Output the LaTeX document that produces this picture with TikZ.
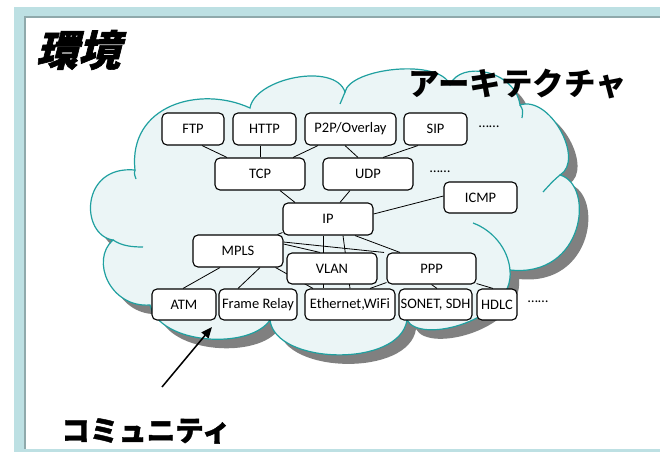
\documentclass[tikz,border=0pt]{standalone}
\usepackage{fontspec}
\setmainfont{Carlito}
\newfontfamily\jp{Noto Sans CJK JP}
\newfontfamily\jpheavy{Noto Sans CJK JP}[FakeBold=1.5]
\newfontfamily\jpsl{Noto Sans CJK JP}[FakeSlant=0.25,FakeBold=1.5]
\usetikzlibrary{arrows.meta}
\definecolor{framebl}{HTML}{BDE0E3}
\definecolor{frameln}{HTML}{8FA9AB}
\definecolor{cloudfill}{HTML}{EBF5F6}
\definecolor{cloudline}{HTML}{1FA0A0}
\definecolor{shadowgr}{HTML}{808080}
\pgfdeclarelayer{back}
\pgfdeclarelayer{mid}
\pgfsetlayers{back,mid,main}
\newcommand\mycloudpath{(113,240) .. controls (80,235) and (80,165) .. (135,170)
 .. controls (128,105) and (200,85) .. (250,108)
 .. controls (255,78) and (335,62) .. (345,92)
 .. controls (350,68) and (440,58) .. (450,85)
 .. controls (460,60) and (515,70) .. (520,105)
 .. controls (550,95) and (585,160) .. (560,175)
 .. controls (595,185) and (585,278) .. (510,270)
 .. controls (515,320) and (420,345) .. (407,320)
 .. controls (400,368) and (275,365) .. (270,320)
 .. controls (250,350) and (160,345) .. (150,305)
 .. controls (110,308) and (90,260) .. (113,240) -- cycle}
\tikzset{
  box/.style={draw=black, line width=1.1pt, rounded corners=5pt, fill=white,
    inner sep=0pt, font=\fontsize{14.5}{16}\selectfont, text=black},
  conn/.style={draw=black, line width=0.8pt},
  innerarc/.style={draw=cloudline, line width=1.2pt},
  dotstxt/.style={inner sep=0pt, font=\fontsize{14.5}{16}\selectfont}
}
\begin{document}
\begin{tikzpicture}[x=1pt,y=-1pt]
\useasboundingbox (0,0) rectangle (660,452);
% nodes
\node[box, minimum width=62pt, minimum height=32pt] (ftp) at (193,129) {FTP};
\node[box, minimum width=63pt, minimum height=32pt] (http) at (264.5,129) {HTTP};
\node[box, minimum width=91pt, minimum height=32pt] (p2p) at (350.5,129) {P2P/Overlay};
\node[box, minimum width=63pt, minimum height=32pt] (sip) at (435.5,129) {SIP};
\node[dotstxt] (dots1) at (489,127) {……};
\node[box, minimum width=90pt, minimum height=32pt] (tcp) at (260,174) {TCP};
\node[box, minimum width=90pt, minimum height=32pt] (udp) at (368,174) {UDP};
\node[dotstxt] (dots2) at (440,172) {……};
\node[box, minimum width=73pt, minimum height=31pt] (icmp) at (480.5,197.5) {ICMP};
\node[box, minimum width=90pt, minimum height=32pt] (ip) at (328,219) {IP};
\node[box, minimum width=90pt, minimum height=32pt] (mpls) at (238,251) {MPLS};
\node[box, minimum width=90pt, minimum height=31pt] (vlan) at (332,268.5) {VLAN};
\node[box, minimum width=89pt, minimum height=31pt] (ppp) at (431.5,268.5) {PPP};
\node[box, minimum width=64pt, minimum height=31pt] (atm) at (184,304.5) {ATM};
\node[box, minimum width=78pt, minimum height=31pt] (fr) at (258,304.5) {Frame Relay};
\node[box, minimum width=90pt, minimum height=31pt] (eth) at (350,304.5) {Ethernet,WiFi};
\node[box, minimum width=73pt, minimum height=31pt] (sonet) at (435.5,304.5) {SONET, SDH};
\node[box, minimum width=40pt, minimum height=31pt] (hdlc) at (497,304.5) {HDLC};
\node[dotstxt] (dots3) at (538,302) {……};
% titles
\node[inner sep=0pt, font=\jpsl\bfseries\fontsize{42}{44}\selectfont] (title) at (78,50) {環境};
\node[inner sep=0pt, font=\jp\bfseries\fontsize{31.5}{33}\selectfont] (arch) at (518,84) {アーキテクチャ};
\node[inner sep=0pt, font=\jpheavy\bfseries\fontsize{28.5}{30}\selectfont] (comm) at (146,431) {コミュニティ};
% arrow
\coordinate (atail) at (162,387);
\coordinate (ahead) at (212,327);
\draw[line width=1.5pt, -{Triangle[length=11pt,width=9pt]}] (atail) -- (ahead);
\begin{pgfonlayer}{back}
% frame
\fill[framebl] (14,7) rectangle (660,452);
\fill[white] (25,17) rectangle (660,449);
\draw[frameln, line width=1.2pt] (25,449) -- (25,17) -- (660,17);
% cloud
\fill[shadowgr, shift={(9,9)}] \mycloudpath;
\filldraw[fill=cloudfill, draw=cloudline, line width=1.2pt] \mycloudpath;
\draw[innerarc] (113,240) .. controls (122,246) and (132,247) .. (143,247);
\draw[innerarc] (135,170) .. controls (134,173) .. (136,179);
\draw[innerarc] (345,92) .. controls (343,97) .. (340,104);
\draw[innerarc] (520,105) .. controls (523,110) .. (522,118);
\draw[innerarc] (560,175) .. controls (553,181) .. (543,192);
\draw[innerarc] (510,270) .. controls (508,248) and (492,230) .. (473,223);
\end{pgfonlayer}
\begin{pgfonlayer}{mid}
\path[conn] ([xshift=9pt]ftp.south) -- ([xshift=-33pt]tcp.north);
\path[conn] (http.south -| tcp.north) -- (tcp.north);
\path[conn] ([xshift=-32.5pt]p2p.south) -- ([xshift=33pt]tcp.north);
\path[conn] ([xshift=-5.5pt]p2p.south) -- ([xshift=-10pt]udp.north);
\path[conn] ([xshift=-17.5pt]sip.south) -- ([xshift=15pt]udp.north);
\path[conn] ([xshift=20pt]tcp.south) -- ([xshift=-33pt]ip.north);
\path[conn] ([xshift=-18pt]udp.south) -- ([xshift=12pt]ip.north);
\path[conn] ([yshift=5pt]ip.east) -- ([yshift=1.5pt]icmp.west);
\path[conn] ([yshift=3pt]ip.south west) -- ([xshift=-6pt]mpls.north east);
\path[conn] ([yshift=7pt]mpls.east) -- ([xshift=-12pt]vlan.north);
\path[conn] ([yshift=9pt]mpls.east) -- ([xshift=-47.5pt]ppp.north);
\path[conn] ([xshift=-5pt]ip.south) -- ([xshift=-27pt]eth.north);
\path[conn] ([xshift=15pt]ip.south) -- (eth.north);
\path[conn] ([xshift=27pt]ip.south) -- ([xshift=-31.5pt]ppp.north);
\path[conn] ([xshift=-18pt]mpls.south) -- ([xshift=-1pt]atm.north);
\path[conn] ([xshift=22pt]mpls.south) -- ([xshift=-20pt]fr.north);
\path[conn] ([xshift=-8pt]mpls.south east) -- ([xshift=-37pt]eth.north);
\path[conn] ([yshift=2pt]ppp.south west) -- ([xshift=20pt]eth.north);
\path[conn] (ppp.south) -- ([xshift=1.5pt]sonet.north);
\path[conn] ([yshift=1pt]ppp.south east) -- ([xshift=-4pt]hdlc.north);
\end{pgfonlayer}
\end{tikzpicture}
\end{document}
